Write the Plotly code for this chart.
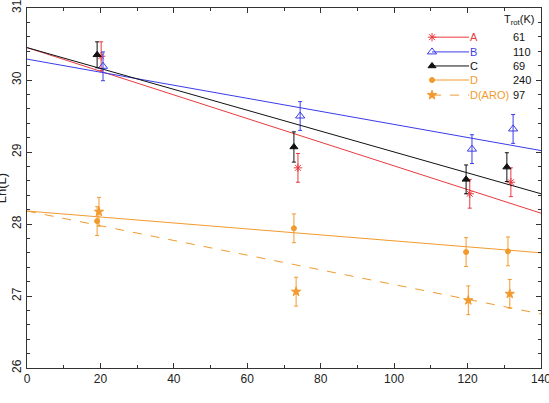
import plotly.graph_objects as go

# ---- data ----
names = ["A", "B", "C", "D", "D(ARO)"]
t_rot = [61, 110, 69, 240, 97]
colors = ["#e83a3f", "#3b3bea", "#111111", "#f29a2e", "#f29a2e"]

E_A = [20.2, 73.8, 120.6, 131.8]
L_A = [30.33, 28.78, 28.42, 28.58]
err_A = [0.2, 0.2, 0.2, 0.2]

E_B = [20.7, 74.4, 121.2, 132.4]
L_B = [30.19, 29.50, 29.04, 29.32]
err_B = [0.2, 0.2, 0.2, 0.2]

E_C = [19.1, 72.7, 119.6, 130.7]
L_C = [30.35, 29.07, 28.62, 28.79]
err_C = [0.18, 0.21, 0.2, 0.2]

E_D = [19.1, 72.7, 119.6, 131.0]
L_D = [28.04, 27.94, 27.61, 27.62]
err_D = [0.2, 0.2, 0.2, 0.2]

E_R = [19.6, 73.3, 120.2, 131.5]
L_R = [28.17, 27.06, 26.94, 27.03]
err_R = [0.2, 0.2, 0.2, 0.2]

fit_E = [0, 140]
fit_A = [30.45, 28.15]
fit_B = [30.29, 29.02]
fit_C = [30.45, 28.42]
fit_D = [28.18, 27.60]
fit_R = [28.18, 26.75]

series = [
    (E_A, L_A, err_A, fit_A, "asterisk-open", 7, "solid"),
    (E_B, L_B, err_B, fit_B, "triangle-up-open", 8, "solid"),
    (E_C, L_C, err_C, fit_C, "triangle-up", 7, "solid"),
    (E_D, L_D, err_D, fit_D, "circle", 5, "solid"),
    (E_R, L_R, err_R, fit_R, "star", 7, "dash"),
]

fig = go.Figure()
for (ex, ly, er, fit, sym, sz, dash), col in zip(series, colors):
    fig.add_trace(go.Scatter(x=fit_E, y=fit, mode="lines",
                             line=dict(color=col, width=1, dash=dash),
                             showlegend=False, hoverinfo="skip"))
    fig.add_trace(go.Scatter(x=ex, y=ly, mode="markers",
                             marker=dict(symbol=sym, size=sz, color=col,
                                         line=dict(color=col, width=1)),
                             error_y=dict(type="data", array=er, color=col,
                                          thickness=1, width=2),
                             showlegend=False))

# ---- hand-made legend on an overlay axis (0..1) ----
leg_y = [0.919, 0.878, 0.839, 0.800, 0.758]
for (ex, ly, er, fit, sym, sz, dash), col, nm, tr, yy in zip(series, colors, names, t_rot, leg_y):
    fig.add_trace(go.Scatter(x=[0.788, 0.860], y=[yy, yy], xaxis="x2", yaxis="y2",
                             mode="lines", line=dict(color=col, width=1, dash=dash),
                             showlegend=False, hoverinfo="skip"))
    fig.add_trace(go.Scatter(x=[0.788], y=[yy], xaxis="x2", yaxis="y2",
                             mode="markers",
                             marker=dict(symbol=sym, size=sz, color=col,
                                         line=dict(color=col, width=1)),
                             showlegend=False, hoverinfo="skip"))
    fig.add_annotation(x=0.858, y=yy, xref="x2", yref="y2", text=nm,
                       showarrow=False, xanchor="left", yanchor="middle",
                       font=dict(color=col if nm != "C" else "#111111", size=11))
    fig.add_annotation(x=0.941, y=yy, xref="x2", yref="y2", text=str(tr),
                       showarrow=False, xanchor="left", yanchor="middle",
                       font=dict(color="#111111", size=11))
fig.add_annotation(x=0.958, y=0.967, xref="x2", yref="y2", text="T<sub>rot</sub>(K)",
                   showarrow=False, xanchor="center", yanchor="middle",
                   font=dict(color="#111111", size=11))

# axis titles
fig.add_annotation(x=0.5, y=-0.082, xref="paper", yref="paper", text="E (K)",
                   showarrow=False, xanchor="center", yanchor="top",
                   font=dict(size=13, color="#222222"))
fig.add_annotation(x=-0.05, y=0.5, xref="paper", yref="paper", text="Ln(L)",
                   showarrow=False, xanchor="center", yanchor="middle", textangle=-90,
                   font=dict(size=13, color="#222222"))

axis_common = dict(showgrid=False, zeroline=False, showline=True, linecolor="#333333",
                   linewidth=1, mirror="ticks", ticks="inside", ticklen=5,
                   tickcolor="#333333", tickfont=dict(size=12, color="#222222"),
                   ticklabeloverflow="allow", automargin=False)
fig.update_layout(
    width=549, height=403,
    margin=dict(l=27, r=8, t=8, b=35, autoexpand=False),
    paper_bgcolor="white", plot_bgcolor="white",
    font=dict(family="Liberation Sans, Arial, sans-serif"),
    xaxis=dict(range=[0, 140], dtick=20, tick0=0,
               minor=dict(dtick=10, ticks="inside", ticklen=3, tickcolor="#333333"),
               **axis_common),
    yaxis=dict(range=[26, 31], dtick=1, tick0=26, tickangle=-90,
               minor=dict(dtick=0.2, ticks="inside", ticklen=3, tickcolor="#333333"),
               **axis_common),
    xaxis2=dict(range=[0, 1], overlaying="x", visible=False, anchor="y2"),
    yaxis2=dict(range=[0, 1], overlaying="y", visible=False, anchor="x2"),
)
fig.write_html("out.html")
